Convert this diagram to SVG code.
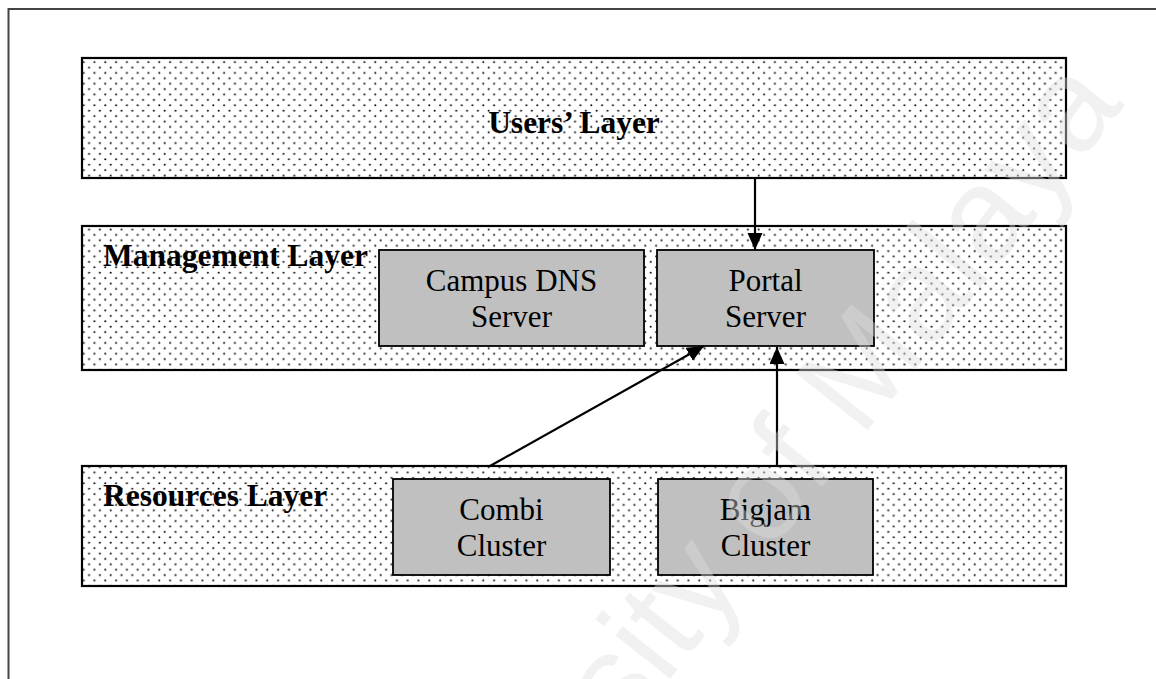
<svg xmlns="http://www.w3.org/2000/svg" width="1156" height="679" viewBox="0 0 1156 679">
  <style>
    .layer { fill: url(#dots); stroke: #000; stroke-width: 2.2; }
    .box { fill: #c0c0c0; stroke: #000; stroke-width: 1.8; }
    .title { font-family: "Liberation Serif", "Times New Roman", serif; font-size: 31.5px; font-weight: bold; fill: #000; }
    .label { font-family: "Liberation Serif", "Times New Roman", serif; font-size: 31px; fill: #000; text-anchor: middle; }
    .conn { stroke: #000; stroke-width: 2.2; fill: none; marker-end: url(#arrow); }
  </style>
  <defs>
    <pattern id="dots" patternUnits="userSpaceOnUse" width="10.8" height="10.8" x="0" y="0">
      <rect width="10.8" height="10.8" fill="#fff"/>
      <circle cx="2.7" cy="2.7" r="1.1" fill="#1a1a1a"/>
      <circle cx="8.1" cy="8.1" r="1.1" fill="#1a1a1a"/>
    </pattern>
    <marker id="arrow" markerUnits="userSpaceOnUse" markerWidth="18" markerHeight="16" refX="17" refY="7.5" orient="auto">
      <path d="M0,0 L17,7.5 L0,15 Z" fill="#000"/>
    </marker>
  </defs>

  <rect width="1156" height="679" fill="#fff"/>

  <!-- page frame (left and top edges) -->
  <path d="M8.5,679 L8.5,9 L1156,9" fill="none" stroke="#444" stroke-width="2"/>

  <g id="users-layer">
    <rect class="layer" x="82" y="58" width="984" height="120"/>
    <text class="title" x="574" y="133" text-anchor="middle">Users’ Layer</text>
  </g>

  <g id="management-layer">
    <rect class="layer" x="82" y="226" width="984" height="144"/>
    <text class="title" x="103" y="266">Management Layer</text>
  </g>

  <g id="resources-layer">
    <rect class="layer" x="82" y="466" width="984" height="120"/>
    <text class="title" x="103" y="506">Resources Layer</text>
  </g>

  <g id="campus-dns-server">
    <rect class="box" x="379" y="250" width="265" height="96"/>
    <text class="label" x="511.5" y="291">Campus DNS</text>
    <text class="label" x="511.5" y="327">Server</text>
  </g>

  <g id="portal-server">
    <rect class="box" x="657" y="250" width="217" height="96"/>
    <text class="label" x="765.5" y="291">Portal</text>
    <text class="label" x="765.5" y="327">Server</text>
  </g>

  <g id="combi-cluster">
    <rect class="box" x="393" y="479" width="217" height="96"/>
    <text class="label" x="501.5" y="520">Combi</text>
    <text class="label" x="501.5" y="556">Cluster</text>
  </g>

  <g id="bigjam-cluster">
    <rect class="box" x="658" y="479" width="215" height="96"/>
    <text class="label" x="765.5" y="520">Bigjam</text>
    <text class="label" x="765.5" y="556">Cluster</text>
  </g>

  <g id="connectors">
    <line class="conn" x1="755" y1="178" x2="755" y2="250"/>
    <line class="conn" x1="490" y1="466" x2="704" y2="346"/>
    <line class="conn" x1="777" y1="466" x2="777" y2="347"/>
  </g>

  <!-- faint diagonal watermark -->
  <text x="1125" y="105" transform="rotate(-51.6 1125 105)" text-anchor="end"
        font-family="'Liberation Sans', Arial, sans-serif" font-size="132" fill="#dedede" fill-opacity="0.42">University of Malaya</text>
</svg>
